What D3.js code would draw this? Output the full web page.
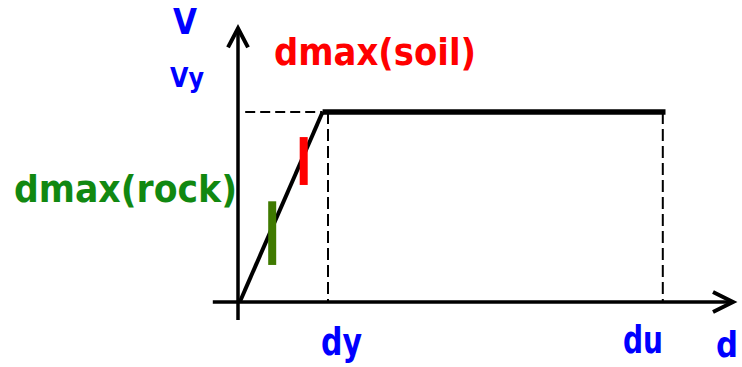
<!DOCTYPE html>
<html>
<head>
<meta charset="utf-8">
<script src="https://cdn.jsdelivr.net/npm/d3@7"></script>
<style>
  body { margin: 0; background: #fff; }
  svg { display: block; }
  text { font-family: "DejaVu Sans", Verdana, sans-serif; font-weight: bold; }
</style>
</head>
<body>
<div id="chart"></div>
<script>
// idealised force-displacement curve (d, V) in arbitrary units
const curveD = [0.02, 0.94, 4.75];
const curveV = [0, 1, 1];
const dy = 1.0;
const du = 4.72;
const Vy = 1;

// dmax markers: [d, Vlow, Vhigh]
const rockBar = [0.38, 0.195, 0.53];
const soilBar = [0.73, 0.616, 0.868];

const axisD = [-0.28, 5.5];
const axisV = [-0.095, 1.44];

const width = 742, height = 367;

const x = d3.scaleLinear([0, 1], [238, 328]);
const y = d3.scaleLinear([0, 1], [302, 112]);

const svg = d3.select('#chart')
  .append('svg')
  .attr('width', width)
  .attr('height', height);

const line = d3.line().x(d => x(d[0])).y(d => y(d[1]));

// dashed guide lines
svg.append('path')
  .attr('d', line([[0.08, Vy], [0.94, Vy]]))
  .attr('fill', 'none').attr('stroke', '#000')
  .attr('stroke-width', 2).attr('stroke-dasharray', '10,5');
[dy, du].forEach(v => {
  svg.append('path')
    .attr('d', line([[v, Vy], [v, 0]]))
    .attr('fill', 'none').attr('stroke', '#000')
    .attr('stroke-width', 2).attr('stroke-dasharray', '12,5');
});

// axes
svg.append('path')
  .attr('d', line([[axisD[0], 0], [axisD[1], 0]]))
  .attr('stroke', '#000').attr('stroke-width', 3.5);
svg.append('path')
  .attr('d', line([[0, axisV[0]], [0, axisV[1]]]))
  .attr('stroke', '#000').attr('stroke-width', 3.5);

// arrow heads
const xt = x(axisD[1]), yt = y(0);
svg.append('path')
  .attr('d', `M${xt - 20},${yt - 10}L${xt},${yt}L${xt - 20},${yt + 10}`)
  .attr('fill', 'none').attr('stroke', '#000').attr('stroke-width', 4);
const xa = x(0), ya = y(axisV[1]);
svg.append('path')
  .attr('d', `M${xa - 10},${ya + 19}L${xa},${ya}L${xa + 10},${ya + 19}`)
  .attr('fill', 'none').attr('stroke', '#000').attr('stroke-width', 4);

// curve: rising branch then plateau
const pts = d3.zip(curveD, curveV);
svg.append('path')
  .attr('d', line(pts.slice(0, 2)))
  .attr('fill', 'none').attr('stroke', '#000').attr('stroke-width', 4);
svg.append('path')
  .attr('d', line(pts.slice(1)))
  .attr('fill', 'none').attr('stroke', '#000').attr('stroke-width', 5.5);

// dmax bars
function bar(b, color) {
  svg.append('rect')
    .attr('x', x(b[0]) - 4)
    .attr('y', y(b[2]))
    .attr('width', 8)
    .attr('height', y(b[1]) - y(b[2]))
    .attr('fill', color);
}
bar(rockBar, '#3f7a00');
bar(soilBar, '#ff0000');

// labels
function label(txt, px, py, size, color, len, anchor) {
  const t = svg.append('text')
    .attr('x', px).attr('y', py)
    .attr('font-size', size)
    .attr('fill', color)
    .attr('text-anchor', anchor || 'start')
    .text(txt);
  if (len) t.attr('textLength', len).attr('lengthAdjust', 'spacingAndGlyphs');
}
label('V', 173, 34, 35, '#0000ff', 24);
label('Vy', 170, 87, 26, '#0000ff', 34);
label('dmax(soil)', 274, 65, 38, '#ff0000', 202);
label('dmax(rock)', 14, 202, 38, '#118811', 223);
label('dy', 321, 355, 37, '#0000ff', 41);
label('du', 623, 353, 37, '#0000ff', 40);
label('d', 716, 357, 36, '#0000ff', 22);
</script>
</body>
</html>
